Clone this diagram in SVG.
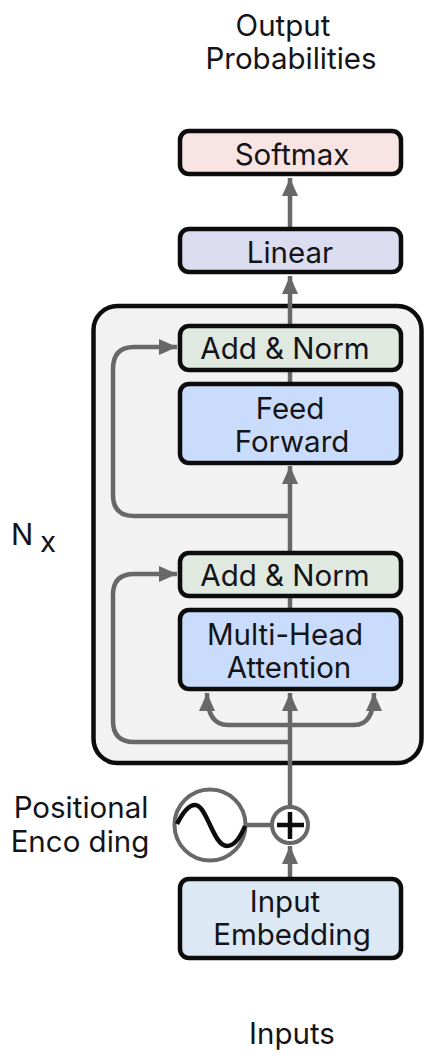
<svg xmlns="http://www.w3.org/2000/svg" width="445" height="1061" viewBox="0 0 445 1061">
<style>
text{font-family:"Inter","Liberation Sans",sans-serif;font-size:29.500px;fill:#141418;text-anchor:middle}
.box{stroke:#0c0c0c;stroke-width:4.500}
.c{fill:none;stroke:#686868;stroke-width:4.500}
</style>
<defs>
<marker id="a" markerUnits="userSpaceOnUse" markerWidth="18" markerHeight="16" refX="18" refY="8" orient="auto"><path d="M0 0L18 8L0 16Z" fill="#686868"/></marker>
</defs>
<rect width="445" height="1061" fill="#fff"/>
<g id="nx-block"><rect x="93.500" y="306" width="328" height="457" rx="24" fill="#f2f2f2" stroke="#0c0c0c" stroke-width="4.500"/></g>
<g id="connectors">
<path class="c" d="M290 877V846" marker-end="url(#a)"/>
<path class="c" d="M290 807V693" marker-end="url(#a)"/>
<path class="c" d="M290 608V598"/>
<path class="c" d="M290 551V466" marker-end="url(#a)"/>
<path class="c" d="M290 382V372"/>
<path class="c" d="M290 324V276" marker-end="url(#a)"/>
<path class="c" d="M290 227V178" marker-end="url(#a)"/>
<path class="c" d="M290 742H134Q113 742 113 721V595Q113 574 134 574H177" marker-end="url(#a)"/>
<path class="c" d="M290 516H134Q113 516 113 495V369Q113 347 134 347H177" marker-end="url(#a)"/>
<path class="c" d="M290 725H228Q207 725 207 693" marker-end="url(#a)"/>
<path class="c" d="M290 725H354Q374 725 374 693" marker-end="url(#a)"/>
<path class="c" d="M247 825H272"/>
</g>
<g id="softmax"><rect class="box" x="180" y="131" width="221" height="43" rx="9" fill="#f9e4e4"/><text x="292" y="165">Softmax</text></g>
<g id="linear"><rect class="box" x="180" y="229" width="221" height="43" rx="9" fill="#dcdcf0"/><text x="290" y="263">Linear</text></g>
<g id="add-norm-2"><rect class="box" x="180" y="326" width="221" height="44" rx="9" fill="#dfe9e0"/><text x="285" y="359">Add &amp; Norm</text></g>
<g id="feed-forward"><rect class="box" x="180" y="384" width="221" height="79" rx="9" fill="#c9dcfb"/><text x="290" y="419">Feed</text><text x="292" y="452">Forward</text></g>
<g id="add-norm-1"><rect class="box" x="180" y="553" width="221" height="43" rx="9" fill="#dfe9e0"/><text x="285" y="586">Add &amp; Norm</text></g>
<g id="multi-head-attention"><rect class="box" x="180" y="610" width="221" height="79" rx="9" fill="#c9dcfb"/><text x="285" y="645">Multi-Head</text><text x="289" y="678">Attention</text></g>
<g id="input-embedding"><rect class="box" x="180" y="879" width="221" height="79" rx="9" fill="#dce9f5"/><text x="285" y="912">Input</text><text x="292" y="945">Embedding</text></g>
<g id="positional-wave"><circle cx="210" cy="825" r="35.500" fill="#fff" stroke="#686868" stroke-width="4"/><path d="M177 824C183 812 189 805 195 805C207 805 213 846 227 846C234 846 240 838 245 826" fill="none" stroke="#0c0c0c" stroke-width="4.500"/></g>
<g id="add"><circle cx="290" cy="825" r="18" fill="#fff" stroke="#686868" stroke-width="4"/><path d="M277 825H304M290 812V839" fill="none" stroke="#0c0c0c" stroke-width="4.500"/></g>
<g id="labels">
<text x="283" y="36">Output</text><text x="291" y="69">Probabilities</text>
<text x="81" y="818">Positional</text><text x="80" y="852">Enco ding</text>
<text x="292" y="1044">Inputs</text>
<text x="22" y="545">N</text><text x="48" y="552">x</text>
</g>
</svg>
